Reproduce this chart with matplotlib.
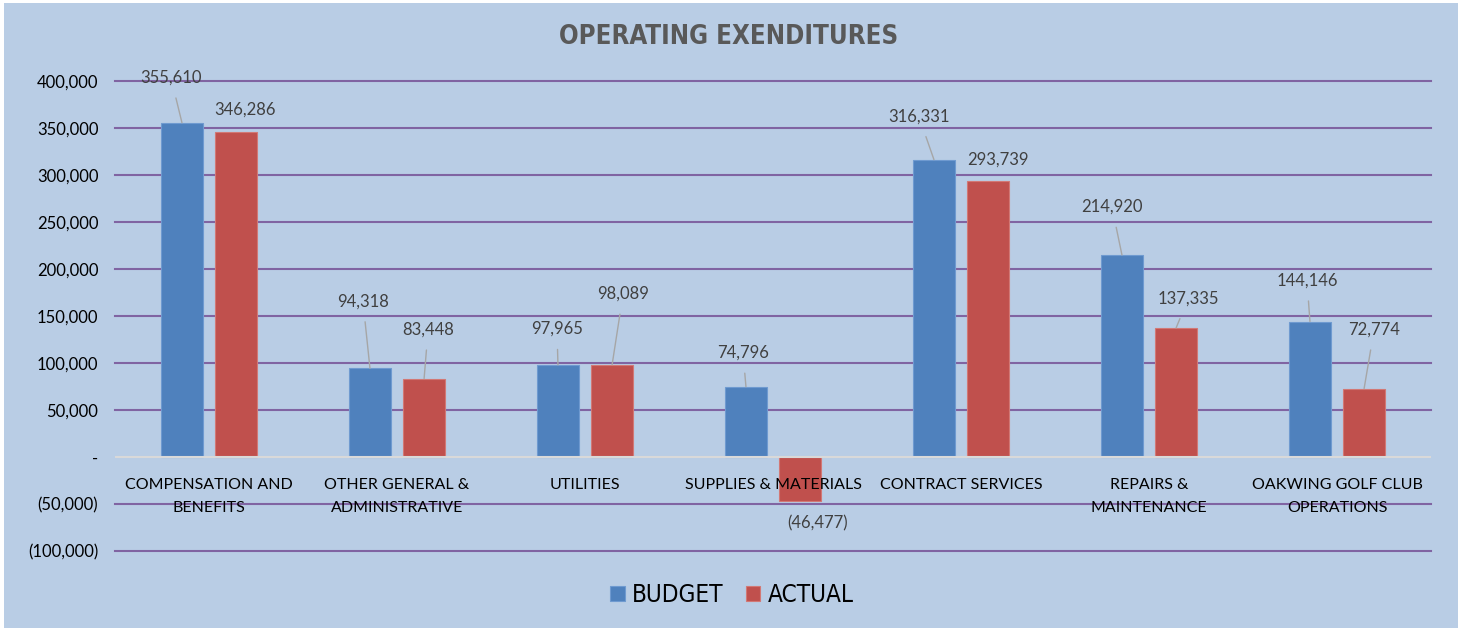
import numpy as np
import matplotlib.pyplot as plt
from matplotlib.ticker import FuncFormatter
from matplotlib.patches import Rectangle

plt.rcParams['font.family'] = ['Lato', 'DejaVu Sans']

categories = ['COMPENSATION AND\nBENEFITS', 'OTHER GENERAL &\nADMINISTRATIVE', 'UTILITIES',
              'SUPPLIES & MATERIALS', 'CONTRACT SERVICES', 'REPAIRS &\nMAINTENANCE',
              'OAKWING GOLF CLUB\nOPERATIONS']
budget = [355610, 94318, 97965, 74796, 316331, 214920, 144146]
actual = [346286, 83448, 98089, -46477, 293739, 137335, 72774]

# label offsets in pixels from the bar end (dx, dy), and whether a leader line is drawn
budget_off = [(-11, 45), (-7, 67), (-1, 36), (-3, 34), (-15, 43), (-10, 48), (-3, 41)]
budget_lead = [True, True, True, True, True, True, True]
actual_off = [(9, 22), (4, 49), (11, 71), (17, -23), (10, 21), (12, 29), (10, 59)]
actual_lead = [False, True, True, False, False, True, True]

BG = '#B9CDE5'
BLUE = '#4F81BD'
RED = '#C0504D'

fig = plt.figure(figsize=(14.58, 6.28), dpi=100, facecolor='white')
# chart area background (thin white strip at top and left like the original)
fig.patches.append(Rectangle((4 / 1458, 0), 1, 1 - 3 / 628, transform=fig.transFigure,
                             facecolor=BG, edgecolor='none', zorder=-10))

ax = fig.add_axes([0.0789, 0.1226, 0.9026, 0.7484])
ax.set_facecolor(BG)
ax.patch.set_alpha(0)

x = np.arange(len(categories))
w = 0.223
off = 0.144
b1 = ax.bar(x - off, budget, w, color=BLUE, edgecolor='#6F9AD0', linewidth=0.8, label='BUDGET', zorder=2)
b2 = ax.bar(x + off, actual, w, color=RED, edgecolor='#D27875', linewidth=0.8, label='ACTUAL', zorder=2)

ax.set_xlim(-0.5, 6.5)
ax.set_ylim(-100000, 400000)
ax.set_yticks(np.arange(-100000, 400001, 50000))

def fmt(v, pos=None):
    if v == 0:
        return '-'
    if v < 0:
        return f'({abs(v):,.0f})'
    return f'{v:,.0f}'

ax.yaxis.set_major_formatter(FuncFormatter(fmt))
ax.tick_params(axis='y', length=0, pad=12, labelsize=12, labelcolor='#000000')

for v in np.arange(-100000, 400001, 50000):
    if v != 0:
        ax.axhline(v, color='#8064A2', linewidth=1.5, zorder=1, clip_on=False)
ax.axhline(0, color='#D9D9D9', linewidth=1.5, zorder=3)

for s in ['top', 'right', 'left']:
    ax.spines[s].set_visible(False)
ax.spines['bottom'].set_position(('data', 0))
ax.spines['bottom'].set_visible(False)
ax.set_xticks(x)
ax.set_xticklabels(categories, fontsize=11.5, linespacing=1.85, color='#000000')
ax.tick_params(axis='x', length=0, pad=15)
ax.xaxis.set_zorder(5)  # category names sit on top of the negative bar

def label_bars(xs, vals, offs, leads):
    for xi, v, (dx, dy), lead in zip(xs, vals, offs, leads):
        ap = dict(arrowstyle='-', color='#A6A6A6', lw=1.0, shrinkA=7, shrinkB=0) if lead else None
        ax.annotate(fmt(v), xy=(xi, v), xytext=(dx * 0.72, dy * 0.72), textcoords='offset points',
                    ha='center', va='center', fontsize=12, color='#404040',
                    arrowprops=ap, zorder=4)

label_bars(x - off, budget, budget_off, budget_lead)
label_bars(x + off, actual, actual_off, actual_lead)

fig.text(0.5, 0.941, 'OPERATING EXENDITURES', ha='center', va='center', fontsize=18.5,
         fontweight='bold', color='#595959', family=['DejaVu Sans'], stretch='condensed')

fig.legend(handles=[b1, b2], loc='center', bbox_to_anchor=(0.502, 0.052), ncol=2, frameon=False,
           prop={'family': ['DejaVu Sans'], 'stretch': 'condensed', 'size': 17.5},
           handlelength=0.6, handleheight=0.6, handletextpad=0.3, columnspacing=0.9)

plt.savefig('out.png', dpi=100, facecolor='white')
